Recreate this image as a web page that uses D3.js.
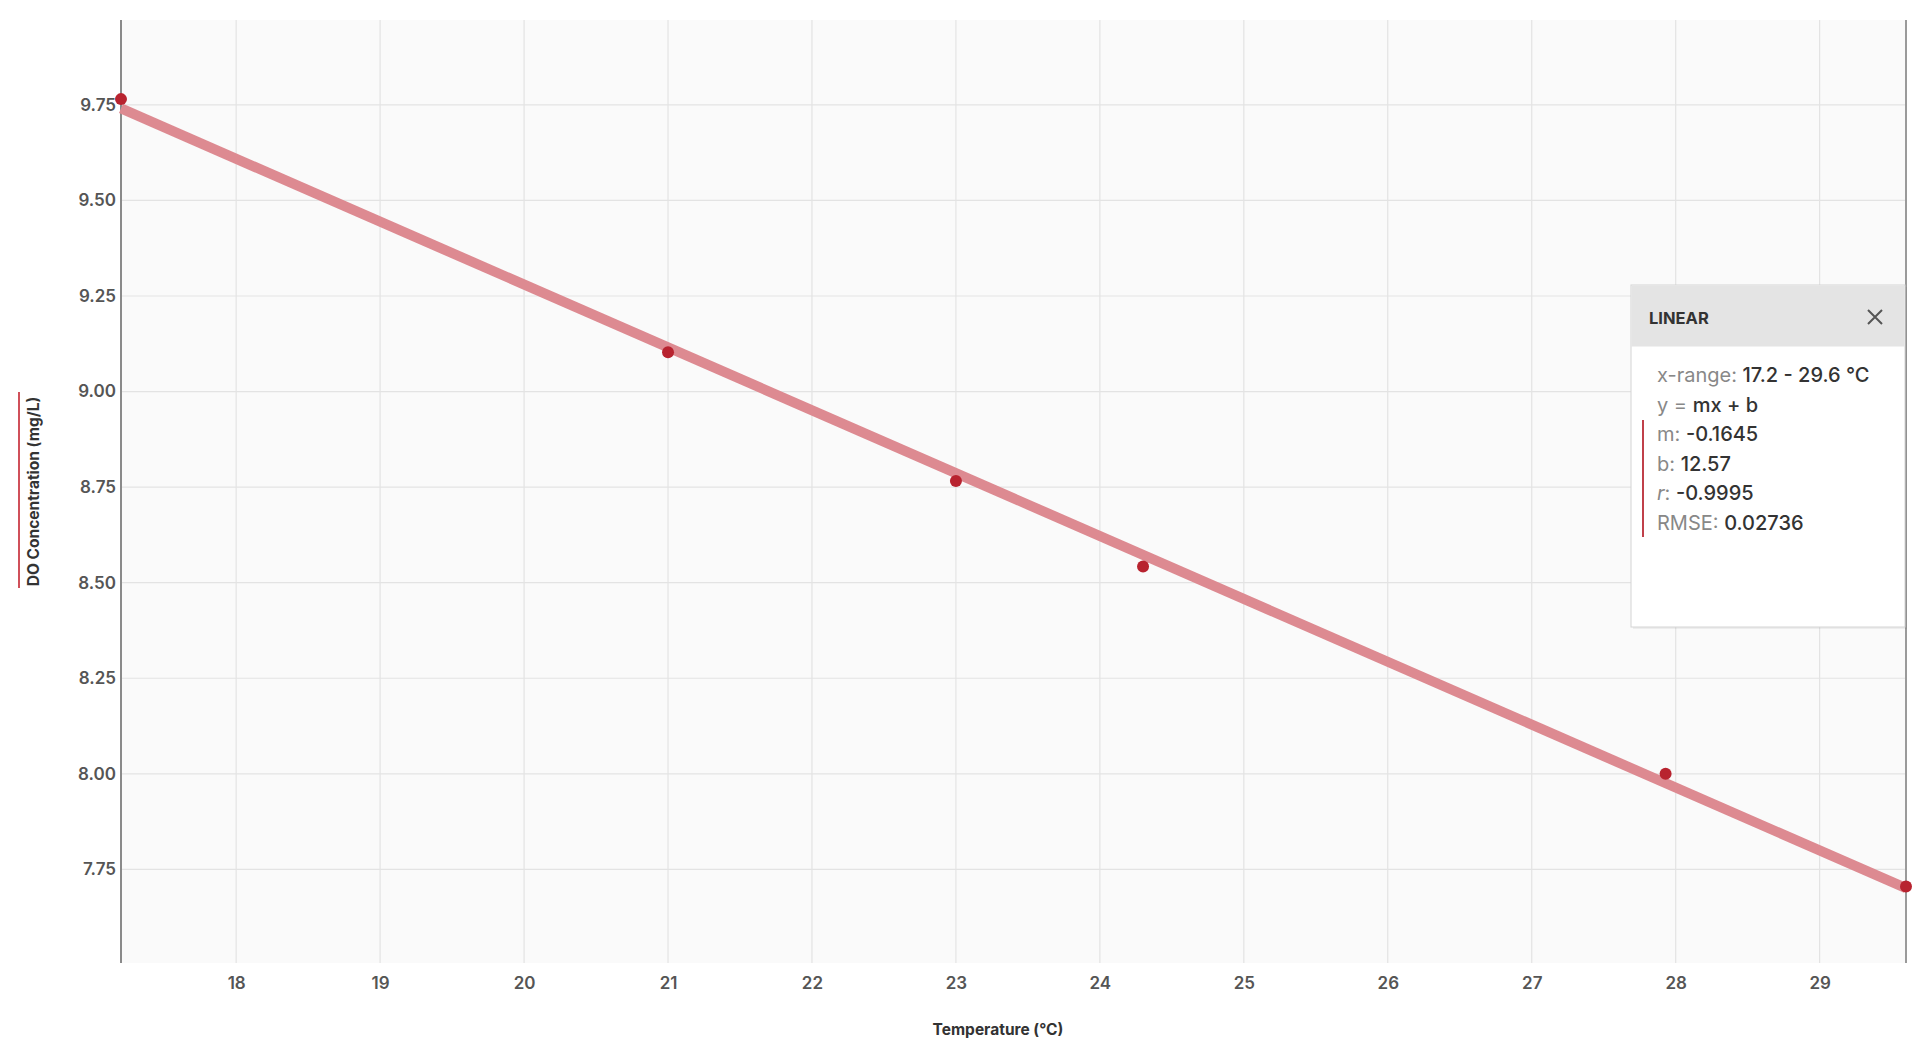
<!DOCTYPE html>
<html>
<head>
<meta charset="utf-8">
<script src="https://d3js.org/d3.v7.min.js"></script>
<style>
  body { margin: 0; background: #fff; font-family: Inter, "Liberation Sans", sans-serif; }
  .tick text { fill: #555; font-size: 17px; font-weight: 600; }
</style>
</head>
<body>
<svg width="1920" height="1055"></svg>
<script>
// measured values
const temps = [17.2, 21.0, 23.0, 24.3, 27.93, 29.6];
const doVals = [9.765, 9.103, 8.766, 8.542, 8.00, 7.705];

const xTicks = [18, 19, 20, 21, 22, 23, 24, 25, 26, 27, 28, 29];
const yTicks = [7.75, 8.00, 8.25, 8.50, 8.75, 9.00, 9.25, 9.50, 9.75];

// linear fit shown in the box
const fitRange = [17.2, 29.6];
const fitSlope = -0.1645;
const fitIntercept = 12.57;

const legendTitle = 'LINEAR';
const legendLabels = ['x-range: ', 'y = ', 'm: ', 'b: ', 'r', 'RMSE: '];
const legendValues = ['17.2 - 29.6 °C', 'mx + b', '-0.1645', '12.57', '-0.9995', '0.02736'];

// plot box
const pLeft = 121, pRight = 1906, pTop = 20, pBottom = 963;

const svg = d3.select('svg');

const x = d3.scaleLinear().domain([17.2, 29.6]).range([pLeft, pRight]);
const y = d3.scaleLinear().domain([7.505, 9.972]).range([pBottom, pTop]);

// background
svg.append('rect')
  .attr('x', pLeft).attr('y', pTop)
  .attr('width', pRight - pLeft).attr('height', pBottom - pTop)
  .attr('fill', '#fafafa');

// grid
svg.append('g')
  .selectAll('line')
  .data(xTicks)
  .enter().append('line')
    .attr('x1', d => x(d)).attr('x2', d => x(d))
    .attr('y1', pTop).attr('y2', pBottom)
    .attr('stroke', '#e3e3e3').attr('stroke-width', 1.2);
svg.append('g')
  .selectAll('line')
  .data(yTicks)
  .enter().append('line')
    .attr('x1', pLeft).attr('x2', pRight)
    .attr('y1', d => y(d)).attr('y2', d => y(d))
    .attr('stroke', '#e3e3e3').attr('stroke-width', 1.2);

// axes (labels only)
const gx = svg.append('g')
  .attr('transform', 'translate(0,' + pBottom + ')')
  .call(d3.axisBottom(x).tickValues(xTicks).tickSize(0).tickPadding(14).tickFormat(d3.format('d')));
gx.select('.domain').remove();

const gy = svg.append('g')
  .attr('transform', 'translate(' + pLeft + ',0)')
  .call(d3.axisLeft(y).tickValues(yTicks).tickSize(0).tickPadding(5).tickFormat(d3.format('.2f')));
gy.select('.domain').remove();
svg.selectAll('.tick text').attr('font-family', 'Inter, "Liberation Sans", sans-serif');

// border lines
svg.append('line')
  .attr('x1', pLeft).attr('x2', pLeft).attr('y1', pTop).attr('y2', pBottom)
  .attr('stroke', '#8a8a8a').attr('stroke-width', 2);
svg.append('line')
  .attr('x1', pRight).attr('x2', pRight).attr('y1', pTop).attr('y2', pBottom)
  .attr('stroke', '#9a9a9a').attr('stroke-width', 2);

// fit line
svg.append('line')
  .attr('x1', x(fitRange[0])).attr('y1', y(fitSlope * fitRange[0] + fitIntercept))
  .attr('x2', x(fitRange[1])).attr('y2', y(fitSlope * fitRange[1] + fitIntercept))
  .attr('stroke', '#dd8a91').attr('stroke-width', 10);

// points
svg.append('g')
  .selectAll('circle')
  .data(temps)
  .enter().append('circle')
    .attr('cx', d => x(d))
    .attr('cy', (d, i) => y(doVals[i]))
    .attr('r', 6)
    .attr('fill', '#b8232f');

// axis titles
svg.append('text')
  .attr('x', 998).attr('y', 1035)
  .attr('text-anchor', 'middle')
  .attr('font-size', 15.5).attr('font-weight', 700).attr('fill', '#333')
  .text('Temperature (°C)');

svg.append('text')
  .attr('transform', 'translate(39,' + ((pTop + pBottom) / 2) + ') rotate(-90)')
  .attr('text-anchor', 'middle')
  .attr('font-size', 15.5).attr('font-weight', 700).attr('fill', '#333')
  .text('DO Concentration (mg/L)');
svg.append('line')
  .attr('x1', 19).attr('x2', 19).attr('y1', 392).attr('y2', 588)
  .attr('stroke', '#d0505a').attr('stroke-width', 2);

// legend box
const lg = svg.append('g').attr('transform', 'translate(1631,285)');
lg.append('rect')
  .attr('x', 2).attr('y', 2).attr('width', 274).attr('height', 342)
  .attr('fill', '#000').attr('opacity', 0.05);
lg.append('rect')
  .attr('width', 274).attr('height', 342)
  .attr('fill', '#fff').attr('stroke', '#d4d4d4');
lg.append('rect')
  .attr('x', 0.5).attr('y', 0.5).attr('width', 273).attr('height', 61)
  .attr('fill', '#e4e4e4');
lg.append('text')
  .attr('x', 18).attr('y', 39)
  .attr('font-size', 16.5).attr('font-weight', 700).attr('fill', '#333')
  .text(legendTitle);
lg.append('path')
  .attr('d', 'M237,25 L251,39 M251,25 L237,39')
  .attr('stroke', '#555').attr('stroke-width', 2);

lg.selectAll('text.row')
  .data(legendLabels)
  .enter().append('text')
    .attr('class', 'row')
    .attr('x', 26)
    .attr('y', (d, i) => 97 + i * 29.5)
    .attr('font-size', 20)
    .each(function(d, i) {
      const t = d3.select(this);
      if (d === 'r') {
        t.append('tspan').attr('fill', '#888').attr('font-style', 'italic').text('r');
        t.append('tspan').attr('fill', '#888').text(': ');
      } else {
        t.append('tspan').attr('fill', '#888').text(d);
      }
      t.append('tspan').attr('fill', '#333').attr('font-weight', 500).text(legendValues[i]);
    });
lg.append('line')
  .attr('x1', 12).attr('x2', 12).attr('y1', 135).attr('y2', 252)
  .attr('stroke', '#c0404a').attr('stroke-width', 2);
</script>
</body>
</html>
